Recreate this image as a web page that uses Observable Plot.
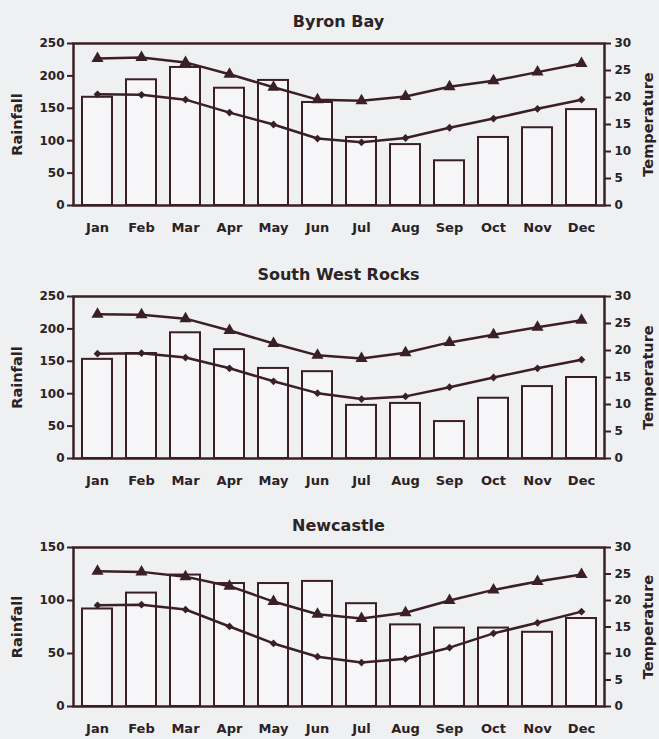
<!DOCTYPE html>
<html>
<head>
<meta charset="utf-8">
<script src="https://cdn.jsdelivr.net/npm/d3@7"></script>
<script src="https://cdn.jsdelivr.net/npm/@observablehq/plot@0.6"></script>
<style>
  html, body { margin: 0; padding: 0; background: #eef0f2; }
  #wrap { position: relative; width: 659px; height: 739px; background: #eef0f2; font-family: "DejaVu Sans", sans-serif; }
  .title { position: absolute; left: 73px; width: 531px; text-align: center; font-weight: bold; font-size: 16px; line-height: 20px; color: #2c2426; }
  .panel { position: absolute; left: 0; }
</style>
</head>
<body>
<div id="wrap"></div>
<script>
const months = ["Jan","Feb","Mar","Apr","May","Jun","Jul","Aug","Sep","Oct","Nov","Dec"];
const sites = ["Byron Bay", "South West Rocks", "Newcastle"];

const byronRain = [167, 194, 213, 181, 193, 159, 105, 94, 69, 105, 120, 148];
const byronMax  = [27.2, 27.4, 26.5, 24.3, 21.9, 19.6, 19.4, 20.2, 22.0, 23.1, 24.7, 26.3];
const byronMin  = [20.6, 20.5, 19.6, 17.2, 15.0, 12.4, 11.7, 12.5, 14.4, 16.1, 17.9, 19.6];

const swrRain = [153, 162, 194, 168, 139, 134, 82, 85, 57, 93, 111, 125];
const swrMax  = [26.7, 26.6, 25.9, 23.7, 21.3, 19.1, 18.5, 19.6, 21.5, 22.9, 24.3, 25.6];
const swrMin  = [19.4, 19.5, 18.7, 16.7, 14.3, 12.1, 11.0, 11.5, 13.2, 15.0, 16.7, 18.3];

const newcRain = [92, 107, 124, 116, 116, 118, 97, 77, 74, 74, 70, 83];
const newcMax  = [25.5, 25.4, 24.5, 22.7, 19.8, 17.4, 16.6, 17.7, 20.0, 22.0, 23.6, 24.9];
const newcMin  = [19.1, 19.2, 18.3, 15.1, 11.9, 9.4, 8.3, 9.0, 11.1, 13.8, 15.8, 17.9];

const rainTicks250 = [0, 50, 100, 150, 200, 250];
const rainTicks150 = [0, 50, 100, 150];
const tempTicks = [0, 5, 10, 15, 20, 25, 30];
const tempMax = 30;

const ink = "#3b1f26";
const textInk = "#2a2224";

function panel(rain, tmax, tmin, ymax, leftTicks, frameH) {
  const k = ymax / tempMax;
  const data = months.map((m, i) => ({m, rain: rain[i], tmax: tmax[i] * k, tmin: tmin[i] * k}));
  return Plot.plot({
    width: 659,
    height: 15 + frameH + 35,
    marginTop: 15,
    marginBottom: 35,
    marginLeft: 73,
    marginRight: 55,
    style: {background: "transparent", fontFamily: "DejaVu Sans", fontWeight: "bold", color: textInk, overflow: "visible"},
    x: {domain: months, paddingInner: 0.32, paddingOuter: 0.18, label: null},
    y: {domain: [0, ymax], label: null},
    marks: [
      Plot.barY(data, {x: "m", y: "rain", fill: "#f6f6f8", stroke: ink, strokeWidth: 2}),
      Plot.line(data, {x: "m", y: "tmax", stroke: ink, strokeWidth: 2.5}),
      Plot.dot(data, {x: "m", y: "tmax", symbol: "triangle", fill: ink, r: 4.5}),
      Plot.line(data, {x: "m", y: "tmin", stroke: ink, strokeWidth: 2.5}),
      Plot.dot(data, {x: "m", y: "tmin", symbol: "diamond2", fill: ink, r: 3.5}),
      Plot.frame({stroke: ink, strokeWidth: 2.5}),
      Plot.axisX({tickSize: 0, tickPadding: 17, fontSize: 13, label: null}),
      Plot.axisY(leftTicks, {anchor: "left", tickSize: 6, tickPadding: 3, fontSize: 12, label: null, stroke: ink, strokeWidth: 2}),
      Plot.axisY(tempTicks.map(t => t * k), {anchor: "right", tickSize: 6, tickPadding: 4, fontSize: 12, label: null,
        tickFormat: d => String(Math.round(d / k)), stroke: ink, strokeWidth: 2}),
      Plot.text(["Rainfall"], {frameAnchor: "left", dx: -56, rotate: -90, textAnchor: "middle", fontSize: 14.5, fontWeight: "bold", fill: textInk}),
      Plot.text(["Temperature"], {frameAnchor: "right", dx: 44, rotate: -90, textAnchor: "middle", fontSize: 14.5, fontWeight: "bold", fill: textInk})
    ]
  });
}

const wrap = document.getElementById("wrap");
const specs = [
  {title: sites[0], titleTop: 12, svgTop: 28, rain: byronRain, tmax: byronMax, tmin: byronMin, ymax: 250, ticks: rainTicks250, h: 162},
  {title: sites[1], titleTop: 265, svgTop: 281, rain: swrRain, tmax: swrMax, tmin: swrMin, ymax: 250, ticks: rainTicks250, h: 162},
  {title: sites[2], titleTop: 516, svgTop: 532, rain: newcRain, tmax: newcMax, tmin: newcMin, ymax: 150, ticks: rainTicks150, h: 159}
];
for (const s of specs) {
  const t = document.createElement("div");
  t.className = "title";
  t.style.top = s.titleTop + "px";
  t.textContent = s.title;
  wrap.appendChild(t);
  const p = document.createElement("div");
  p.className = "panel";
  p.style.top = s.svgTop + "px";
  p.appendChild(panel(s.rain, s.tmax, s.tmin, s.ymax, s.ticks, s.h));
  wrap.appendChild(p);
}
</script>
</body>
</html>
